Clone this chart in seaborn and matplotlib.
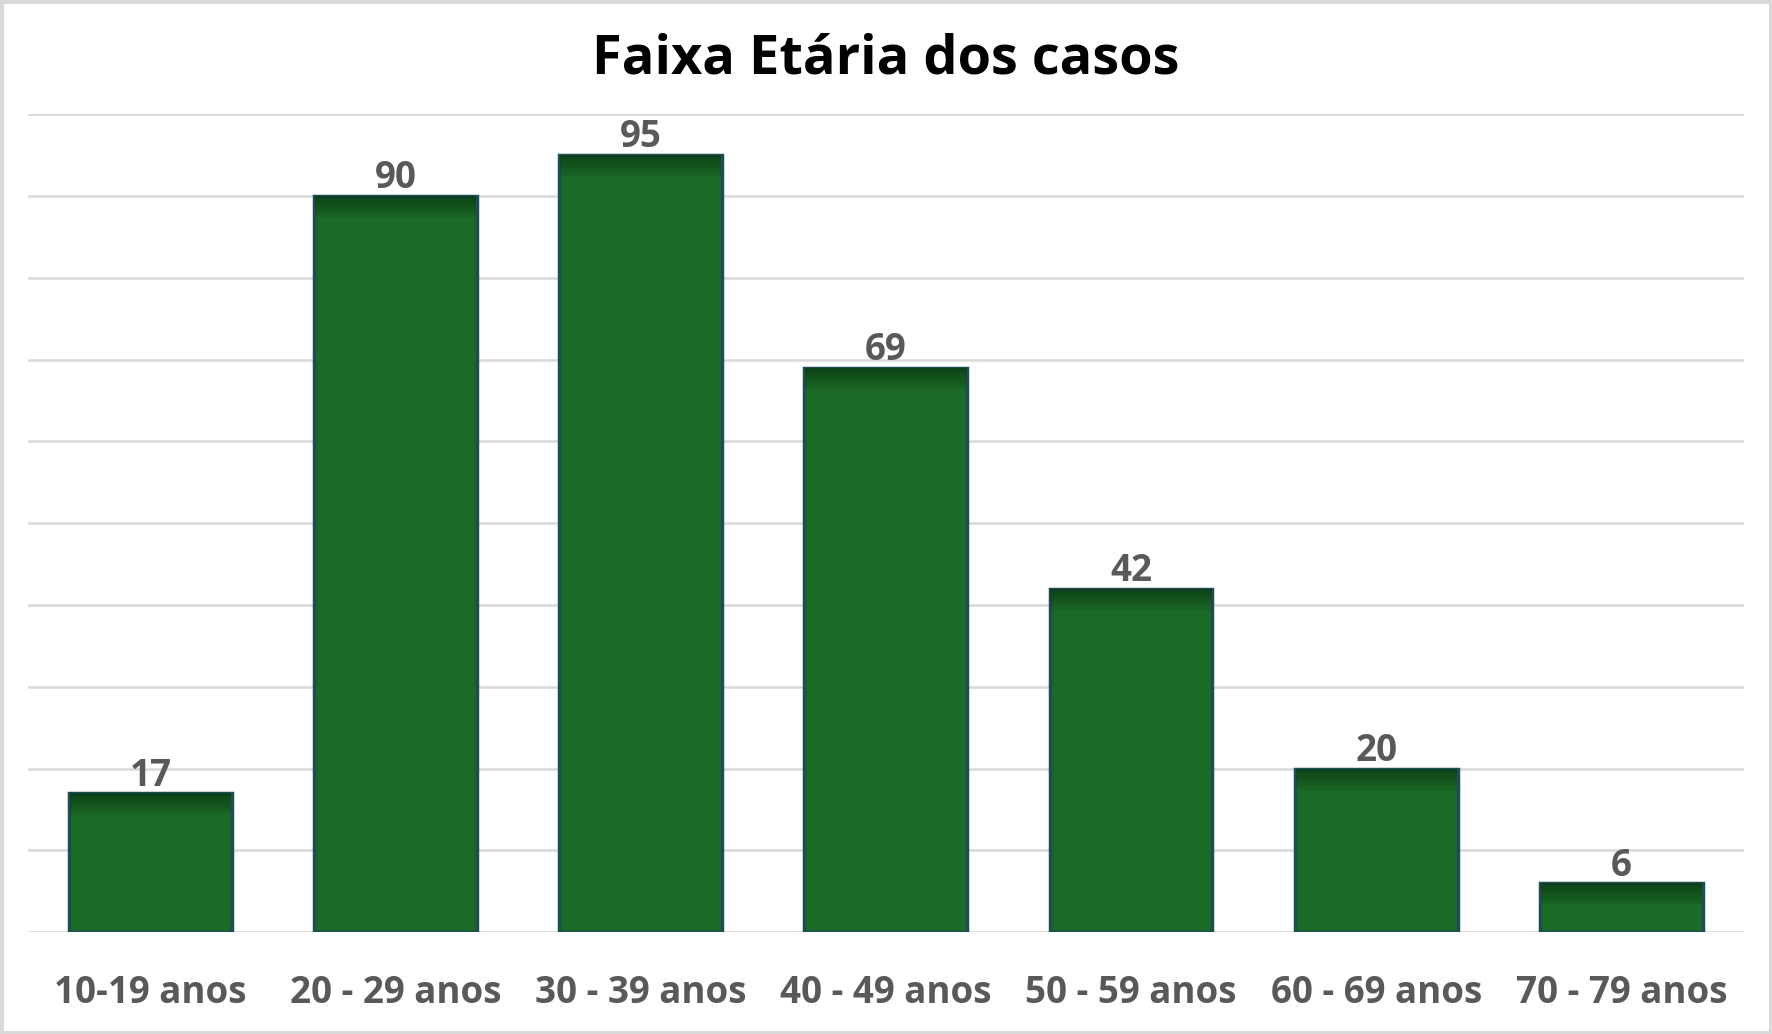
import matplotlib
matplotlib.use("Agg")
import matplotlib.pyplot as plt
import seaborn as sns
import pandas as pd

categories = ["10-19 anos", "20 - 29 anos", "30 - 39 anos", "40 - 49 anos",
              "50 - 59 anos", "60 - 69 anos", "70 - 79 anos"]
casos = [17, 90, 95, 69, 42, 20, 6]
title = "Faixa Etária dos casos"

sns.set_theme(style="white")
plt.rcParams['font.family'] = ['Open Sans', 'DejaVu Sans']

df = pd.DataFrame({"faixa": categories, "casos": casos})

fig = plt.figure(figsize=(17.72, 10.34), dpi=100)
fig.patch.set_facecolor("white")
fig.patch.set_edgecolor("#D9D9D9")
fig.patch.set_linewidth(5)
ax = fig.add_axes([27.7 / 1772, 1 - 932.3 / 1034, (1744 - 27.7) / 1772, (932.3 - 114.1) / 1034])

sns.barplot(data=df, x="faixa", y="casos", ax=ax, color="#1B6A26",
            width=0.664, edgecolor="#1E4D55", linewidth=2.5, saturation=1)

# darker gradient band at top of each bar
band = 2.6
steps = 8
for i in range(steps):
    frac = i / steps
    ax.bar(range(len(casos)), [band / steps] * len(casos),
           bottom=[v - band + frac * band for v in casos],
           width=0.664 - 0.006, color="#0B3B14", alpha=0.15 + 0.75 * frac,
           linewidth=0, zorder=3)

ax.set_ylim(0, 100)
ax.set_xlim(-0.5, len(casos) - 0.5)
ax.set_yticks(range(0, 101, 10))
ax.yaxis.grid(True, color="#D9D9D9", linewidth=1.8)
ax.set_axisbelow(True)
ax.set_yticklabels([])
ax.tick_params(axis="y", length=0)
ax.tick_params(axis="x", length=0, pad=30, labelsize=26.5, labelcolor="#595959")
for lbl in ax.get_xticklabels():
    lbl.set_fontweight("bold")
ax.set_xlabel("")
ax.set_ylabel("")
for s in ax.spines.values():
    s.set_visible(False)

for i, v in enumerate(casos):
    ax.annotate(str(v), (i, v), xytext=(0, -1), textcoords="offset points",
                ha="center", va="bottom", fontsize=26.5, fontweight="bold",
                color="#595959")

fig.text(0.5, 1 - 60 / 1034, title, ha="center", va="center",
         fontsize=39, fontweight="bold", color="black")

fig.savefig("out.png", dpi=100, facecolor=fig.get_facecolor(),
            edgecolor=fig.get_edgecolor())
